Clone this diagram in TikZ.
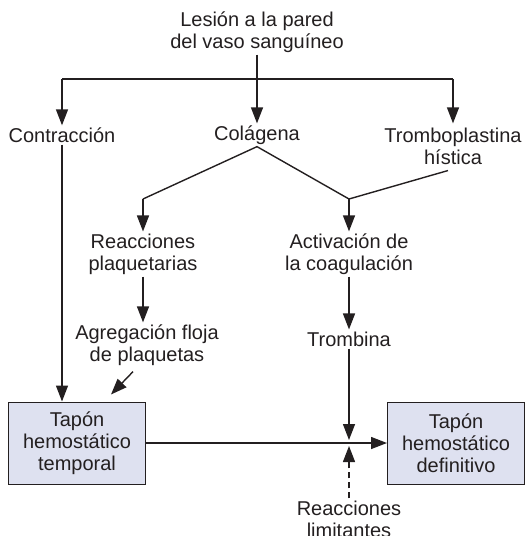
\documentclass[tikz,border=0pt]{standalone}
\usepackage{fontspec}
\setmainfont{Liberation Sans}
\usetikzlibrary{arrows.meta,positioning,calc}
\definecolor{plugfill}{RGB}{222,225,240}
\definecolor{ink}{RGB}{35,31,32}

\begin{document}
\begin{tikzpicture}[
  x=1pt, y=-1pt,
  font=\fontsize{20}{22}\selectfont,
  every node/.style={text=ink},
  term/.style={align=center, inner sep=2pt},
  plug/.style={
    draw=ink, fill=plugfill, align=center, line width=1pt,
    minimum width=137pt, minimum height=82pt, inner sep=2pt
  },
  link/.style={line width=1.4pt, draw=ink},
  flow/.style={link, -{Triangle[length=16pt, width=12pt]}},
  limit/.style={flow, dash pattern=on 6pt off 4pt},
]
\useasboundingbox (0,0) rectangle (526,536);

% ---- row 1: the injury and its three effects ---------------------------
\node[term] (lesion) at (257,32) {Lesión a la pared\\del vaso sanguíneo};
\node[term] (contr)  at (62,135)  {Contracción};
\node[term] (colag)  at (257,135) {Colágena};
\node[term] (trombo) at (453,146) {Tromboplastina\\hística};

\coordinate (bar) at (257,79);
\draw[link] (bar -| contr) -- (bar -| trombo);
\draw[flow] (lesion) -- (colag);
\draw[flow] (bar -| contr) -- (contr);
\draw[flow] (bar -| trombo) -- (trombo.north |- colag.north);

% ---- row 2: platelets and coagulation ----------------------------------
\node[term] (reac)  at (143,254) {Reacciones\\plaquetarias};
\node[term] (activ) at (349,254) {Activación de\\la coagulación};

\coordinate (splitL) at (143,199);
\coordinate (splitR) at (349,199);
\draw[link] (splitL) -- (colag.south) -- (splitR);
\draw[link] ([shift={(-5pt,-4pt)}]trombo.south) -- (splitR);
\draw[flow] (splitL) -- (reac);
\draw[flow] (splitR) -- (activ);

% ---- row 3: aggregation and thrombin -----------------------------------
\node[term] (agreg) at (147,345) {Agregación floja\\de plaquetas};
\node[term] (tromb) at (349,339) {Trombina};

\draw[flow] (reac) -- (reac |- agreg.north);
\draw[flow] (activ) -- (activ |- tromb.north);

% ---- row 4: the two plugs ----------------------------------------------
\node[plug] (temp)  at (77,443)  {Tapón\\hemostático\\temporal};
\node[plug] (defin) at (456,443) {Tapón\\hemostático\\definitivo};
\node[term] (lim)   at (349,519) {Reacciones\\limitantes};

\coordinate (meet) at (tromb |- temp);
\draw[flow] (contr) -- (contr |- temp.north);
\draw[flow] ([xshift=-14pt,yshift=-4pt]agreg.south)
  -- ([xshift=34pt,yshift=7pt]temp.north);
\draw[flow] (temp) -- (defin);
\draw[flow] (tromb) -- ([yshift=3pt]meet);
\draw[limit] (lim) -- ([yshift=-3pt]meet);

\end{tikzpicture}
\end{document}
